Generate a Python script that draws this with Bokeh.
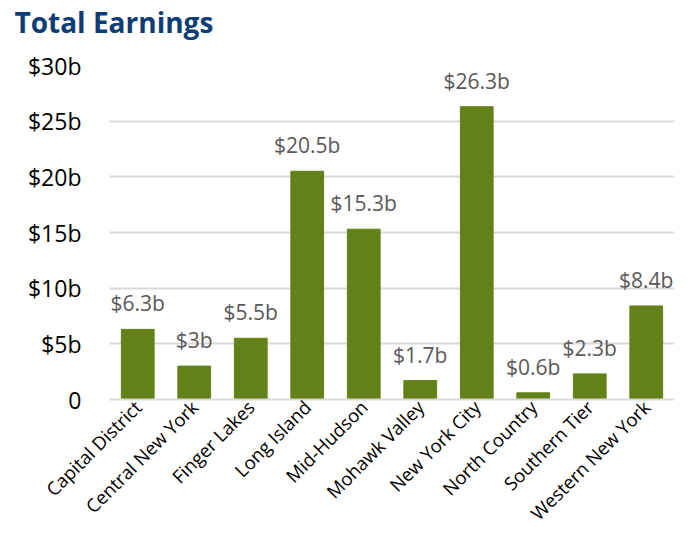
import math
from bokeh.plotting import figure
from bokeh.models import ColumnDataSource, FixedTicker, Range1d, FactorRange, Title
from bokeh.core.properties import value
from bokeh.embed import file_html
from bokeh.resources import INLINE

title_text = "Total Earnings"
regions = ["Capital District", "Central New York", "Finger Lakes", "Long Island",
           "Mid-Hudson", "Mohawk Valley", "New York City", "North Country",
           "Southern Tier", "Western New York"]
earnings = [6.3, 3.0, 5.5, 20.5, 15.3, 1.7, 26.3, 0.6, 2.3, 8.4]
labels = ["$6.3b", "$3b", "$5.5b", "$20.5b", "$15.3b", "$1.7b", "$26.3b", "$0.6b", "$2.3b", "$8.4b"]
y_ticks = [0, 5, 10, 15, 20, 25, 30]
y_tick_labels = ["0", "$5b", "$10b", "$15b", "$20b", "$25b", "$30b"]

FONT = "Open Sans"
src = ColumnDataSource(dict(x=regions, y=earnings, lab=labels))

p = figure(x_range=FactorRange(*regions), y_range=Range1d(0, 30),
           width=674, height=536, output_backend="svg", toolbar_location=None,
           min_border_left=109, min_border_right=0, min_border_top=65, min_border_bottom=137)

# spacer between frame and title, then the title itself (outermost)
p.add_layout(Title(text=" ", text_font_size="1px", standoff=22), "above")
p.add_layout(Title(text=title_text, align="left", offset=-95, standoff=0,
                   text_font=FONT, text_font_size="28px", text_font_style="bold",
                   text_color="#0E3C74"), "above")

p.vbar(x="x", top="y", width=0.58, source=src, color="#638119")
p.text(x="x", y="y", text="lab", source=src, text_align="center", text_baseline="bottom",
       y_offset=-12, text_font=value(FONT), text_font_size="21px", text_color="#595959")

p.outline_line_color = None
p.xgrid.grid_line_color = None
p.ygrid.grid_line_color = "#d9d9d9"
p.ygrid.grid_line_width = 2
p.yaxis.ticker = FixedTicker(ticks=y_ticks)
p.yaxis.major_label_overrides = {tk: l for tk, l in zip(y_ticks, y_tick_labels)}
p.yaxis.axis_line_color = None
p.yaxis.major_tick_line_color = None
p.yaxis.minor_tick_line_color = None
p.yaxis.major_tick_out = 0
p.yaxis.major_tick_in = 0
p.yaxis.major_label_text_font = FONT
p.yaxis.major_label_text_font_size = "23px"
p.yaxis.major_label_text_color = "#000000"
p.yaxis.major_label_standoff = 28

p.xaxis.axis_line_color = "#d9d9d9"
p.xaxis.axis_line_width = 2
p.xaxis.major_tick_line_color = None
p.xaxis.minor_tick_line_color = None
p.xaxis.major_tick_out = 0
p.xaxis.major_tick_in = 0
p.xaxis.major_label_orientation = math.pi / 4
p.xaxis.major_label_text_font = FONT
p.xaxis.major_label_text_font_size = "18.5px"
p.xaxis.major_label_text_color = "#000000"
p.xaxis.major_label_standoff = 4

open("out.html", "w").write(file_html(p, INLINE))
